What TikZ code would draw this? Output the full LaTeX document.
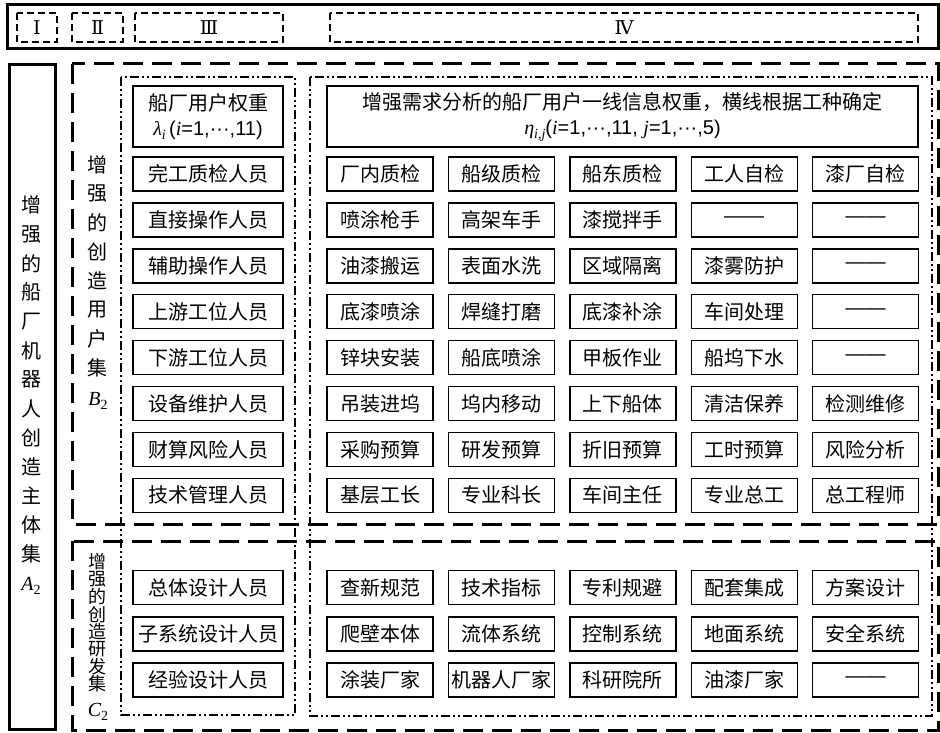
\documentclass[tikz,border=0pt]{standalone}
\usepackage{fontspec}
\setmainfont{Noto Sans CJK SC}
\newfontfamily\lat{Liberation Sans}
\newfontfamily\tms{Liberation Serif}
\newfontfamily\rom{DejaVu Serif}
\newcommand{\fs}{\fontsize{20}{25}\selectfont}
\newcommand{\sub}[1]{\raisebox{-4pt}{\fontsize{14}{14}\selectfont #1}}
\newcommand{\nil}{{\lat ——}}
\tikzset{
  topframe/.style={draw, line width=3pt},
  topbox/.style={draw, line width=2pt, dash pattern=on 7pt off 4pt},
  setbox/.style={draw, line width=3pt, dash pattern=on 20pt off 9pt},
  colbox/.style={draw, line width=2pt, dash pattern=on 9pt off 3pt on 2pt off 3pt on 2pt off 3pt},
  cell/.style={draw, line width=1.4pt, minimum width=106pt, minimum height=34pt, inner sep=0pt, font=\fs},
  pcell/.style={cell, minimum width=150pt},
  vch/.style={inner sep=0pt, font=\fs},
  vchs/.style={inner sep=0pt, font=\fontsize{18}{18}\selectfont},
  numlab/.style={inner sep=0pt, font=\rom\fontsize{19}{19}\selectfont},
}
\begin{document}
\begin{tikzpicture}[x=1pt,y=-1pt]
\useasboundingbox (0,0) rectangle (940,733);
% top frame
\draw[topframe] (7,5) rectangle (938,49);
\draw[topbox] (17,13) rectangle (57,42);
\draw[topbox] (72,13) rectangle (123,42);
\draw[topbox] (135,13) rectangle (283,42);
\draw[topbox] (330,13) rectangle (918,42);
\node[numlab] (n1) at (37,27.5) {Ⅰ};
\node[numlab] (n2) at (97.5,27.5) {Ⅱ};
\node[numlab] (n3) at (209,27.5) {Ⅲ};
\node[numlab] (n4) at (624,27.5) {Ⅳ};
% A2 box
\draw[topframe] (9,65) rectangle (55,729);
\foreach \c [count=\k from 0] in {增,强,的,船,厂,机,器,人,创,造,主,体,集}
  \node[vch] (a\k) at (31,205+29.1*\k) {\c};
\node[vch] (aA) at (31,586) {{\tms\itshape A}\sub{\tms 2}};
% set boxes
\draw[setbox] (72,64) rectangle (938,524);
\draw[setbox] (72,541) rectangle (938,730);
% column boxes
\draw[colbox] (121,77) rectangle (295,715);
\draw[colbox] (310,77) rectangle (932,716);
% B2 label
\foreach \c [count=\k from 0] in {增,强,的,创,造,用,户,集}
  \node[vch] (b\k) at (97,165+29*\k) {\c};
\node[vch] (bB) at (98,401) {{\tms\itshape B}\sub{\tms 2}};
% C2 label
\foreach \c [count=\k from 0] in {增,强,的,创,造,研,发,集}
  \node[vchs] (c\k) at (97,562+17.4*\k) {\c};
\node[vch] (cC) at (98,712) {{\tms\itshape C}\sub{\tms 2}};
% headers
\node[pcell, minimum height=61pt, align=center] (h3) at (208,116.5)
  {船厂用户权重\\{\tms\itshape λ}\sub{\tms\itshape i}\,{\lat (}{\tms\itshape i}{\lat =1,···,11)}};
\node[cell, minimum width=591pt, minimum height=61pt, align=center] (h4) at (622.5,116.5)
  {增强需求分析的船厂用户一线信息权重，横线根据工种确定\\{\tms\itshape η}\sub{\tms\itshape i,j}{\lat (}{\tms\itshape i}{\lat =1,···,11, }{\tms\itshape j}{\lat =1,···,5)}};
% column III cells (B2)
\foreach \t [count=\i from 0] in {完工质检人员,直接操作人员,辅助操作人员,上游工位人员,下游工位人员,设备维护人员,财算风险人员,技术管理人员}
  \node[pcell] (p\i) at (208,174+45.9*\i) {\t};
% column IV cells (B2)
\foreach \r [count=\i from 0] in {
  {厂内质检,船级质检,船东质检,工人自检,漆厂自检},
  {喷涂枪手,高架车手,漆搅拌手,\nil,\nil},
  {油漆搬运,表面水洗,区域隔离,漆雾防护,\nil},
  {底漆喷涂,焊缝打磨,底漆补涂,车间处理,\nil},
  {锌块安装,船底喷涂,甲板作业,船坞下水,\nil},
  {吊装进坞,坞内移动,上下船体,清洁保养,检测维修},
  {采购预算,研发预算,折旧预算,工时预算,风险分析},
  {基层工长,专业科长,车间主任,专业总工,总工程师}}
{
  \foreach \t [count=\j from 0] in \r
    \node[cell] (q\i-\j) at (380+121.4*\j,174+45.9*\i) {\t};
}
% column III cells (C2)
\foreach \t [count=\i from 0] in {总体设计人员,子系统设计人员,经验设计人员}
  \node[pcell] (s\i) at (208,587.5+46.3*\i) {\t};
% column IV cells (C2)
\foreach \r [count=\i from 0] in {
  {查新规范,技术指标,专利规避,配套集成,方案设计},
  {爬壁本体,流体系统,控制系统,地面系统,安全系统},
  {涂装厂家,机器人厂家,科研院所,油漆厂家,\nil}}
{
  \foreach \t [count=\j from 0] in \r
    \node[cell] (r\i-\j) at (380+121.4*\j,587.5+46.3*\i) {\t};
}
\end{tikzpicture}
\end{document}
